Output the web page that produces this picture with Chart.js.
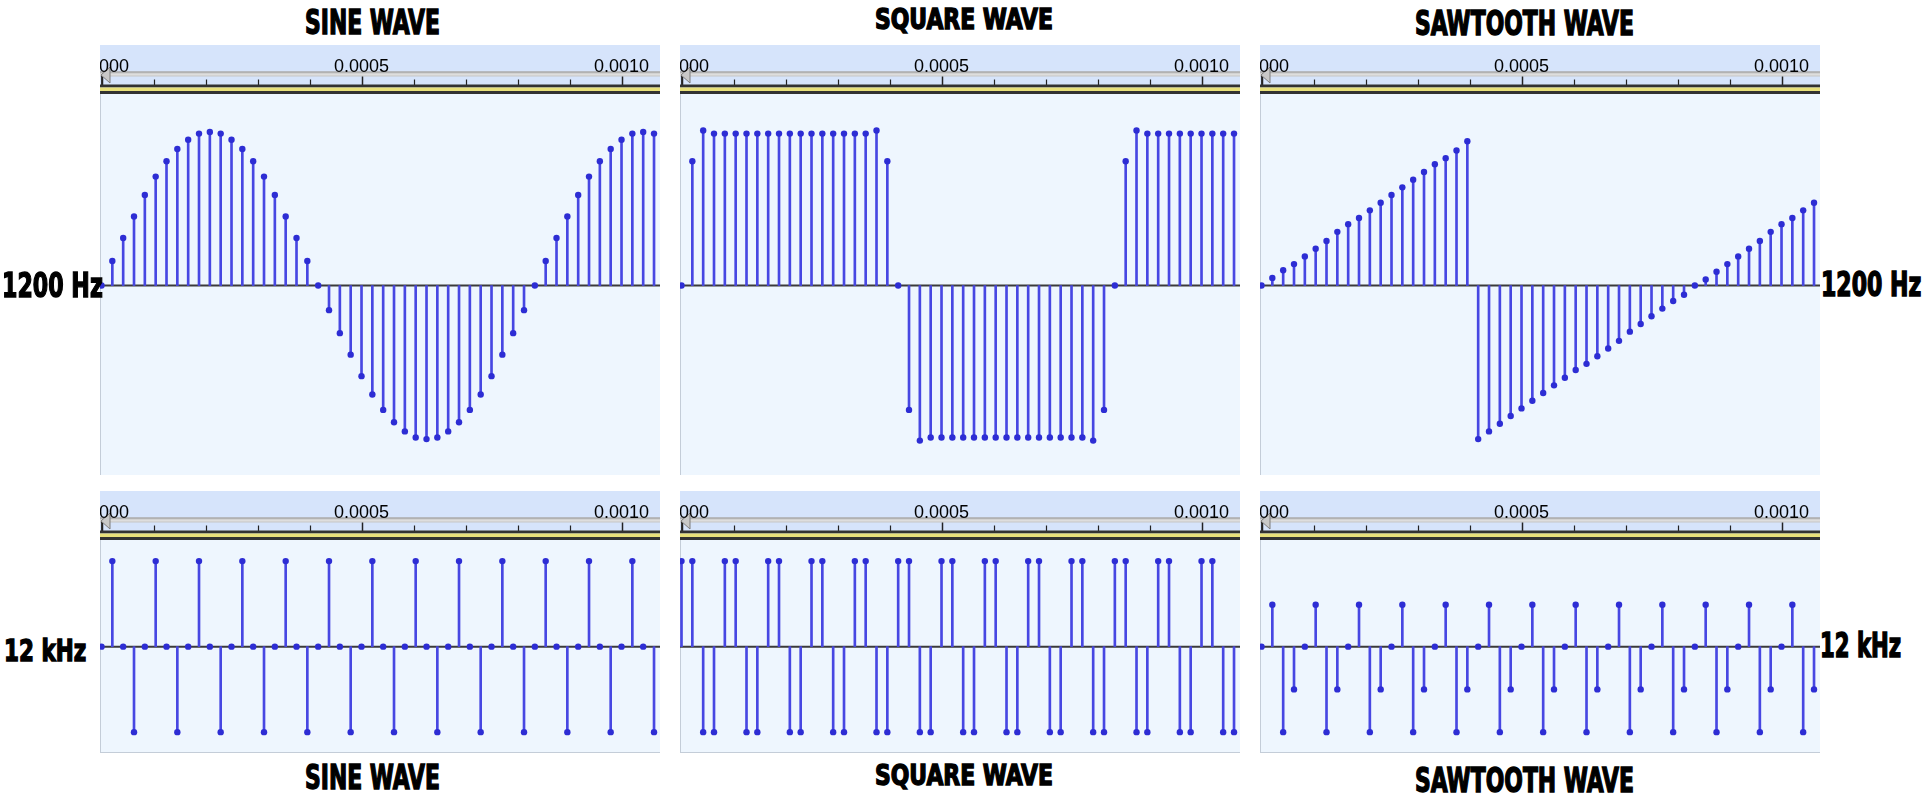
<!DOCTYPE html>
<html>
<head>
<meta charset="utf-8">
<script src="https://cdn.jsdelivr.net/npm/chart.js@4.4.1/dist/chart.umd.min.js"></script>
<style>
  body { margin: 0; width: 1930px; height: 800px; background: #fff; position: relative; overflow: hidden; }
  canvas.panel { position: absolute; }
  .lbl {
    position: absolute; white-space: nowrap; font-weight: bold; color: #000;
    font-family: "Liberation Sans Narrow", "DejaVu Sans Condensed", "Liberation Sans", sans-serif;
    -webkit-text-stroke: 1.4px #000; transform-origin: 0 0; z-index: 5;
  }
</style>
</head>
<body>
<script>
// samples at 48 kHz, about 1.07 ms shown in each panel
const SAMPLE_RATE = 48000;

const sine1200 = [
  0, 0.16, 0.31, 0.45, 0.59, 0.71, 0.81, 0.89, 0.95, 0.99, 1.00, 0.99, 0.95, 0.89, 0.81, 0.71, 0.59, 0.45, 0.31, 0.16,
  0, -0.16, -0.31, -0.45, -0.59, -0.71, -0.81, -0.89, -0.95, -0.99, -1.00, -0.99, -0.95, -0.89, -0.81, -0.71, -0.59, -0.45, -0.31, -0.16,
  0, 0.16, 0.31, 0.45, 0.59, 0.71, 0.81, 0.89, 0.95, 0.99, 1.00, 0.99
];
const square1200 = [
  0, 0.81, 1.01, 0.99, 0.99, 0.99, 0.99, 0.99, 0.99, 0.99, 0.99, 0.99, 0.99, 0.99, 0.99, 0.99, 0.99, 0.99, 1.01, 0.81,
  0, -0.81, -1.01, -0.99, -0.99, -0.99, -0.99, -0.99, -0.99, -0.99, -0.99, -0.99, -0.99, -0.99, -0.99, -0.99, -0.99, -0.99, -1.01, -0.81,
  0, 0.81, 1.01, 0.99, 0.99, 0.99, 0.99, 0.99, 0.99, 0.99, 0.99, 0.99
];
const saw1200 = [
  0, 0.05, 0.10, 0.14, 0.19, 0.24, 0.29, 0.35, 0.40, 0.44, 0.49, 0.54, 0.59, 0.64, 0.69, 0.74, 0.79, 0.83, 0.88, 0.94,
  -1.00, -0.95, -0.90, -0.85, -0.80, -0.75, -0.70, -0.65, -0.60, -0.55, -0.51, -0.46, -0.41, -0.36, -0.30, -0.25, -0.20, -0.15, -0.10, -0.06,
  0, 0.04, 0.09, 0.14, 0.19, 0.24, 0.29, 0.35, 0.40, 0.44, 0.49, 0.54
];
const sine12k = [
  0, 1, 0, -1, 0, 1, 0, -1, 0, 1, 0, -1, 0, 1, 0, -1, 0, 1, 0, -1, 0, 1, 0, -1, 0, 1,
  0, -1, 0, 1, 0, -1, 0, 1, 0, -1, 0, 1, 0, -1, 0, 1, 0, -1, 0, 1, 0, -1, 0, 1, 0, -1
];
const square12k = [
  1, 1, -1, -1, 1, 1, -1, -1, 1, 1, -1, -1, 1, 1, -1, -1, 1, 1, -1, -1, 1, 1, -1, -1, 1, 1,
  -1, -1, 1, 1, -1, -1, 1, 1, -1, -1, 1, 1, -1, -1, 1, 1, -1, -1, 1, 1, -1, -1, 1, 1, -1, -1
];
const saw12k = [
  0, 0.49, -1, -0.5, 0, 0.49, -1, -0.5, 0, 0.49, -1, -0.5, 0, 0.49, -1, -0.5, 0, 0.49, -1, -0.5, 0, 0.49, -1, -0.5, 0, 0.49,
  -1, -0.5, 0, 0.49, -1, -0.5, 0, 0.49, -1, -0.5, 0, 0.49, -1, -0.5, 0, 0.49, -1, -0.5, 0, 0.49, -1, -0.5, 0, 0.49, -1, -0.5
];

// timeline ruler: a tick every 0.1 ms, labels every 0.5 ms
const rulerTicks = [0, 0.0001, 0.0002, 0.0003, 0.0004, 0.0005, 0.0006, 0.0007, 0.0008, 0.0009, 0.0010];
const rulerLabels = ["0.0000", "", "", "", "", "0.0005", "", "", "", "", "0.0010"];

const X_MIN = -0.0000029;
const X_MAX = 0.001074;
const STEM = "#4747e2";
const DOT = "#2d2dd4";

const panels = [
  { values: sine1200,   left: 100,  top: 45,  h: 430, yMin: -1.234, yMax: 1.248, bottomLine: false },
  { values: square1200, left: 680,  top: 45,  h: 430, yMin: -1.234, yMax: 1.248, bottomLine: false },
  { values: saw1200,    left: 1260, top: 45,  h: 430, yMin: -1.234, yMax: 1.248, bottomLine: false },
  { values: sine12k,    left: 100,  top: 491, h: 262, yMin: -1.244, yMax: 1.247, bottomLine: true },
  { values: square12k,  left: 680,  top: 491, h: 262, yMin: -1.244, yMax: 1.247, bottomLine: true },
  { values: saw12k,     left: 1260, top: 491, h: 262, yMin: -1.244, yMax: 1.247, bottomLine: true }
];

const rulerPlugin = {
  id: "ruler",
  beforeDraw(chart) {
    const { ctx, chartArea: a } = chart;
    const x = chart.scales.x;
    const w = chart.width;
    const t = a.top;
    ctx.save();
    ctx.fillStyle = "#d6e4fb";
    ctx.fillRect(0, 0, w, t);
    ctx.fillStyle = "#eef6fe";
    ctx.fillRect(a.left, a.top, a.right - a.left, a.bottom - a.top);

    // slider bar
    ctx.fillStyle = "#c6c6c6";
    ctx.fillRect(0, t - 22.5, w, 5);
    ctx.fillStyle = "#9e9e9e";
    ctx.fillRect(0, t - 22.5, w, 1);
    ctx.fillStyle = "#dedede";
    ctx.fillRect(0, t - 20.5, w, 2);

    // ruler ticks
    ctx.strokeStyle = "#222";
    x.ticks.forEach((tk, i) => {
      const px = Math.round(x.getPixelForValue(tk.value)) + 0.5;
      const major = rulerLabels[i] !== "";
      ctx.lineWidth = major ? 1.5 : 1.2;
      ctx.beginPath();
      ctx.moveTo(px, major ? t - 17.5 : t - 14.5);
      ctx.lineTo(px, t - 9);
      ctx.stroke();
    });

    // black / yellow / black stripe
    ctx.fillStyle = "#323232";
    ctx.fillRect(0, t - 9.5, w, 3);
    ctx.fillStyle = "#e8e07a";
    ctx.fillRect(0, t - 6.5, w, 3.5);
    ctx.fillStyle = "#323232";
    ctx.fillRect(0, t - 3, w, 3);

    // play-head handle at zero
    const hx = x.getPixelForValue(0);
    ctx.fillStyle = "#c9c9c9";
    ctx.strokeStyle = "#7d7d7d";
    ctx.lineWidth = 1;
    ctx.beginPath();
    ctx.moveTo(hx - 0.5, t - 19);
    ctx.lineTo(hx + 8.5, t - 27);
    ctx.lineTo(hx + 8.5, t - 11);
    ctx.closePath();
    ctx.fill();
    ctx.stroke();
    ctx.strokeStyle = "#333";
    ctx.beginPath();
    ctx.moveTo(hx, t - 18);
    ctx.lineTo(hx, t - 9);
    ctx.stroke();
    ctx.restore();
  },
  beforeDatasetsDraw(chart, args, opts) {
    const { ctx, chartArea: a } = chart;
    const y0 = chart.scales.y.getPixelForValue(0);
    ctx.save();
    ctx.strokeStyle = "#c4cdd8";
    ctx.lineWidth = 1;
    ctx.beginPath();
    ctx.moveTo(a.left + 0.5, a.top);
    ctx.lineTo(a.left + 0.5, a.bottom);
    if (opts.bottomLine) {
      ctx.moveTo(a.left, a.bottom - 0.5);
      ctx.lineTo(a.right, a.bottom - 0.5);
    }
    ctx.stroke();
    ctx.strokeStyle = "#3a3a3a";
    ctx.lineWidth = 2;
    ctx.beginPath();
    ctx.moveTo(a.left, y0);
    ctx.lineTo(a.right, y0);
    ctx.stroke();
    ctx.restore();
  }
};

panels.forEach((p) => {
  const cv = document.createElement("canvas");
  cv.className = "panel";
  cv.width = 560;
  cv.height = p.h;
  cv.style.left = p.left + "px";
  cv.style.top = p.top + "px";
  cv.style.width = "560px";
  cv.style.height = p.h + "px";
  document.body.appendChild(cv);

  const pts = p.values.map((v, i) => ({ x: i / SAMPLE_RATE, y: v }));

  new Chart(cv, {
    type: "bar",
    data: {
      datasets: [
        {
          type: "line",
          data: pts,
          showLine: false,
          pointRadius: 3.2,
          pointBorderWidth: 0,
          pointBackgroundColor: DOT,
          order: 0,
        },
        {
          type: "bar",
          data: pts,
          backgroundColor: STEM,
          borderWidth: 0,
          barThickness: 2,
          order: 1,
        },
      ],
    },
    options: {
      responsive: false,
      animation: false,
      layout: { padding: 0, autoPadding: false },
      events: [],
      plugins: {
        legend: { display: false },
        tooltip: { enabled: false },
        ruler: { bottomLine: p.bottomLine },
      },
      scales: {
        x: {
          type: "linear",
          position: "top",
          min: X_MIN,
          max: X_MAX,
          offset: false,
          grid: { display: false },
          border: { display: false },
          afterBuildTicks: (s) => {
            s.ticks = rulerTicks.map((v) => ({ value: v }));
          },
          afterFit: (s) => {
            s.height = 49;
            s.paddingLeft = 0;
            s.paddingRight = 0;
          },
          ticks: {
            autoSkip: false,
            maxRotation: 0,
            minRotation: 0,
            padding: 8,
            color: "#000",
            font: { family: "Liberation Sans, Arial, sans-serif", size: 18 },
            callback: (v, i) => rulerLabels[i],
          },
        },
        y: { display: false, min: p.yMin, max: p.yMax },
      },
    },
    plugins: [rulerPlugin],
  });
});

// titles and side labels, fitted to the box they take in the picture
const FAMILY = '"Liberation Sans Narrow", "DejaVu Sans Condensed", "Liberation Sans", sans-serif';
const mctx = document.createElement("canvas").getContext("2d");
function placeLabel(text, x0, y0, x1, y1) {
  mctx.font = "bold 100px " + FAMILY;
  const m = mctx.measureText(text);
  const inkH = m.actualBoundingBoxAscent + m.actualBoundingBoxDescent;
  const inkW = m.actualBoundingBoxLeft + m.actualBoundingBoxRight;
  const k = (y1 - y0) / inkH;
  const fs = 100 * k;
  const sx = (x1 - x0) / (inkW * k);
  const fa = m.fontBoundingBoxAscent * k;
  const fd = m.fontBoundingBoxDescent * k;
  const baseline = (fs - (fa + fd)) / 2 + fa;
  const el = document.createElement("div");
  el.className = "lbl";
  el.textContent = text;
  el.style.fontSize = fs + "px";
  el.style.lineHeight = fs + "px";
  el.style.left = (x0 + sx * m.actualBoundingBoxLeft * k) + "px";
  el.style.top = (y0 - (baseline - m.actualBoundingBoxAscent * k)) + "px";
  el.style.transform = "scaleX(" + sx + ")";
  document.body.appendChild(el);
}

placeLabel("SINE WAVE", 306, 10, 438, 35);
placeLabel("SQUARE WAVE", 876, 8.5, 1051, 33.5);
placeLabel("SAWTOOTH WAVE", 1416, 11.5, 1632, 36.5);
placeLabel("SINE WAVE", 306, 765, 438, 790);
placeLabel("SQUARE WAVE", 876, 764, 1051, 790);
placeLabel("SAWTOOTH WAVE", 1416, 767, 1632, 792.5);
placeLabel("1200 Hz", 4.5, 272, 102, 297.5);
placeLabel("1200 Hz", 1823, 272, 1920, 297);
placeLabel("12 kHz", 6.5, 638, 85.5, 661.5);
placeLabel("12 kHz", 1822, 633, 1900, 658);
</script>
</body>
</html>
